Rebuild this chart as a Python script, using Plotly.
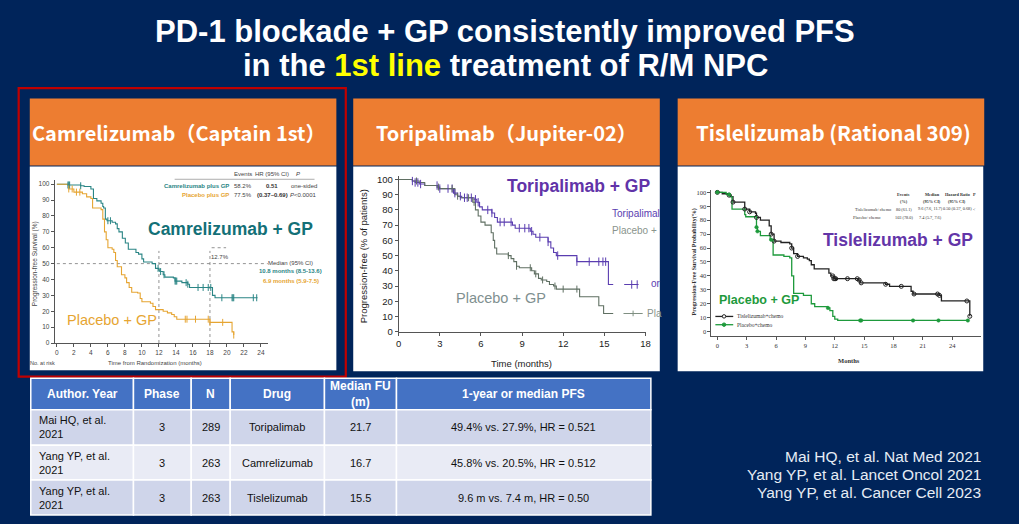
import plotly.graph_objects as go
import numpy as np

W, H = 1019, 524
ARIAL = "Liberation Sans, Arial, sans-serif"
SERIF = "Liberation Serif, Times New Roman, serif"
CJK = "Noto Sans CJK TC, Noto Sans, sans-serif"

NAVY = "#00245A"
ORANGE = "#ED7D31"

# ---------------- data ----------------
# Panel 1: Camrelizumab (CAPTAIN-1st)
cam_t = [0, 1.3, 2.8, 3.2, 4.0, 4.3, 4.7, 5.2, 5.4, 5.5, 5.7, 5.9, 6.5, 6.9, 7.1, 7.3, 7.7, 8.05, 8.4, 9.3,
         9.6, 10.0, 10.2, 11.2, 11.6, 12.0, 12.1, 12.5, 12.7, 13.7, 13.9, 14.7, 15.4, 15.6, 18.2, 18.3, 18.6, 23.6]
cam_s = [100, 99.5, 99, 98.5, 97, 91, 89.5, 88, 86, 85, 78, 77, 76, 75, 72, 70, 66, 63, 59, 57,
         56, 53, 51, 50, 47, 46, 45, 43, 41.5, 41, 39, 38, 37, 35, 35, 30, 28.5, 28.5]
cam_cens = [1.3, 1.4, 1.5, 2.8, 6.0, 6.3, 11.9, 12.2, 12.6, 13.9, 14.0, 14.1, 15.2, 15.4, 16.6, 17.2,
            17.8, 18.1, 19.4, 20.6, 20.7, 20.8, 23.1, 23.5]
pla1_t = [0, 1.4, 2.0, 3.0, 3.5, 4.0, 4.2, 5.2, 5.4, 5.6, 5.8, 6.0, 6.5, 6.7, 6.9, 7.1, 7.6, 8.0, 8.2, 8.5,
          8.8, 9.5, 9.8, 10.0, 11.0, 11.3, 11.6, 12.5, 13.0, 13.5, 13.8, 14.1, 18.0, 20.5, 20.6, 20.8]
pla1_s = [100, 97, 95, 94, 92, 91, 85, 84, 78, 70, 65, 60, 59, 57, 52, 48, 43, 41, 38, 35,
          32, 31.5, 28, 26, 25, 23, 21, 20, 19, 18, 16.5, 15, 13, 13, 7, 5]
pla1_cens = [1.4, 1.8, 2.3, 2.7, 15.1, 15.3, 16.3, 17.8, 18.0, 19.5, 20.8]

# Panel 2: Toripalimab (JUPITER-02)
tor_t = [0, 1.0, 1.2, 1.5, 1.9, 2.9, 4.0, 4.3, 4.6, 5.5, 5.7, 5.9, 6.1, 6.8, 7.0, 7.2, 8.3, 8.5, 9.6, 9.8,
         10.0, 10.9, 11.1, 11.3, 11.5, 13.0, 15.3, 15.65]
tor_s = [100, 99, 98, 97, 96, 94, 91, 89, 88, 87, 85, 82, 80, 78, 75, 72, 70, 68, 66, 64,
         62, 59, 55, 52, 50, 46, 31, 31]
tor_cens = [1.0, 1.2, 1.4, 1.6, 2.8, 3.0, 3.6, 3.9, 4.1, 4.5, 4.8, 5.0, 5.3, 5.6, 5.8, 6.5, 6.8, 7.4, 7.7,
            8.2, 8.8, 9.2, 9.5, 9.7, 10.3, 10.9, 11.6, 13.0, 13.9, 14.6, 14.9, 15.1]
pla2_t = [0, 1.0, 1.5, 1.9, 2.8, 3.0, 4.1, 4.3, 4.5, 5.4, 5.6, 5.8, 6.0, 6.3, 6.75, 6.9, 7.0, 7.15, 8.0, 8.2,
          8.4, 8.6, 8.8, 9.7, 9.9, 10.2, 10.4, 10.8, 11.0, 11.3, 11.5, 13.2, 14.6, 14.95, 15.65]
pla2_s = [100, 99, 98, 96, 95, 94, 90, 89, 88, 85, 80, 76, 72, 70, 65, 60, 55, 51, 50, 48,
          46, 43, 42, 40, 38, 35, 34, 33, 31, 30, 28, 23, 17, 12, 12]
pla2_cens = [1.3, 2.9, 3.9, 4.3, 5.1, 5.5, 8.0, 8.6, 9.6, 10.0, 10.5, 11.4, 12.0, 13.0]
tor_key_t = [16.45, 17.5]
tor_key_s = [31, 31]
tor_key_cens = [17.0, 17.4]
pla2_key_t = [16.4, 17.8]
pla2_key_s = [12, 12]
pla2_key_cens = [17.1]

# Panel 3: Tislelizumab (RATIONALE-309)
tis_t = [0, 0.5, 1.2, 1.4, 1.6, 2.8, 3.3, 3.9, 4.0, 4.4, 5.3, 5.5, 5.8, 6.5, 7.4, 7.6, 7.8, 8.2, 8.8, 9.2,
         9.4, 9.6, 9.9, 11.4, 11.6, 11.9, 14.4, 14.6, 17.2, 17.6, 19.8, 20.0, 22.7, 22.9, 25.8]
tis_s = [100, 99, 98, 97, 93, 88, 86, 85, 82, 80, 76, 70, 65, 64, 63, 60, 56, 54, 53, 52,
         51, 48, 45, 42, 40, 38, 37, 35, 34, 32.5, 29, 27, 26, 22, 11]
tis_cens = [0, 1.2, 1.6, 2.8, 3.3, 4.0, 5.5, 5.8, 7.6, 8.2, 11.8, 11.9, 12.0, 12.1, 13.3, 14.3, 14.5,
            14.7, 17.2, 18.8, 20.1, 22.5, 22.7, 25.5, 25.8]
pla3_t = [0, 0.9, 1.3, 1.5, 2.8, 2.9, 4.0, 4.1, 4.4, 5.4, 5.7, 6.8, 7.4, 7.6, 7.8, 8.8, 9.6, 9.95, 11.3,
          11.5, 11.8, 12.0, 12.3, 25.6]
pla3_s = [100, 98.5, 97, 88, 84, 82.5, 75, 72, 69, 66, 55, 54, 53, 40, 27.5, 26, 20, 18, 17,
          15, 11, 9, 8, 8]
pla3_cens = [0, 1.2, 4.0, 4.1, 5.5, 11.3, 14.6, 14.7, 20.0, 22.6, 25.6]

# ticks
p1_xticks = list(range(0, 25, 2))
p2_xticks = list(range(0, 19, 3))
p3_xticks = list(range(0, 25, 3))
yticks = list(range(0, 101, 10))

# table
tbl_header = ["Author. Year", "Phase", "N", "Drug", "Median FU<br>(m)", "1-year or median PFS"]
tbl_author = ["Mai HQ, et al.<br>2021", "Yang YP, et al.<br>2021", "Yang YP, et al.<br>2021"]
tbl_phase = ["3", "3", "3"]
tbl_n = ["289", "263", "263"]
tbl_drug = ["Toripalimab", "Camrelizumab", "Tislelizumab"]
tbl_fu = ["21.7", "16.7", "15.5"]
tbl_pfs = ["49.4% vs. 27.9%, HR = 0.521", "45.8% vs. 20.5%, HR = 0.512", "9.6 m vs. 7.4 m, HR = 0.50"]

refs = ["Mai HQ, et al. Nat Med 2021", "Yang YP, et al. Lancet Oncol 2021", "Yang YP, et al. Cancer Cell 2023"]

# ---------------- helpers ----------------
def X(p):
    return p / W


def Y(p):
    return 1 - p / H


def xdom(a, b, r):
    return [X(a + b * r[0]), X(a + b * r[1])]


def ydom(c, d, r):
    return [Y(c - d * r[0]), Y(c - d * r[1])]


fig = go.Figure()
ann = []
shapes = []


def txt(x, y, text, size, color, family=ARIAL, xanchor="center", yanchor="middle", angle=0, align="center"):
    ann.append(dict(x=X(x), y=Y(y), xref="paper", yref="paper", text=text, showarrow=False,
                    font=dict(size=size, color=color, family=family), xanchor=xanchor, yanchor=yanchor,
                    textangle=angle, align=align, borderpad=0))


def rect(x0, y0, x1, y1, fill, line=None, lw=0, layer="below"):
    shapes.append(dict(type="rect", xref="paper", yref="paper", x0=X(x0), x1=X(x1), y0=Y(y1), y1=Y(y0),
                       fillcolor=fill, line=dict(color=line or fill, width=lw), layer=layer))


def pline(x0, y0, x1, y1, color, w=1, dash="solid"):
    shapes.append(dict(type="line", xref="paper", yref="paper", x0=X(x0), x1=X(x1), y0=Y(y0), y1=Y(y1),
                       line=dict(color=color, width=w, dash=dash), layer="above"))


def km(t, s, xa, ya, color, width=1.2):
    fig.add_trace(go.Scatter(x=t, y=s, mode="lines", line=dict(shape="hv", color=color, width=width),
                             xaxis=xa, yaxis=ya, hoverinfo="skip"))


def cens(t, s, tc, xa, ya, color, symbol="line-ns", size=5, lw=1):
    ta = np.array(t)
    yc = [s[int(np.searchsorted(ta, c, side="right")) - 1] for c in tc]
    fig.add_trace(go.Scatter(x=tc, y=yc, mode="markers", xaxis=xa, yaxis=ya, hoverinfo="skip",
                             marker=dict(symbol=symbol, size=size, color=color,
                                         line=dict(width=lw, color=color))))


# ---------------- backgrounds ----------------
rect(27, 97, 336, 165, ORANGE)
rect(27, 166, 336, 373, "white")
rect(353, 97, 662, 165, ORANGE)
rect(353, 166, 662, 374, "white")
rect(680, 97, 989, 165, ORANGE)
rect(680, 166, 988, 374, "white")
shapes.append(dict(type="rect", xref="paper", yref="paper", x0=X(15.8), x1=X(345.5), y0=Y(379.5), y1=Y(86.5),
                   line=dict(color="#C00000", width=2.2), fillcolor="rgba(0,0,0,0)", layer="below"))

# titles
txt(506, 29, "<b>PD-1 blockade + GP consistently improved PFS</b>", 31, "white")
txt(506, 63, "<b>in the <span style='color:#FFFF00'>1st line</span> treatment of R/M NPC</b>", 31, "white")
txt(28, 131, "<b>Camrelizumab（Captain 1st）</b>", 20, "white", family=CJK, xanchor="left")
txt(375, 131, "<b>Toripalimab（Jupiter-02）</b>", 20, "white", family=CJK, xanchor="left")
txt(697, 131, "<b>Tislelizumab (Rational 309)</b>", 20.5, "white", family=CJK, xanchor="left")

# ---------------- panel 1 ----------------
TEAL = "#2A8585"
GOLD = "#E6A532"
p1x = (54.3, 8.571)
p1y = (345.3, 1.613)
r1x = [-0.25, 24.8]
r1y = [0, 102.5]
km(cam_t, cam_s, "x", "y", TEAL, 1.1)
km(pla1_t, pla1_s, "x", "y", GOLD, 1.1)
cens(cam_t, cam_s, cam_cens, "x", "y", TEAL, size=5)
cens(pla1_t, pla1_s, pla1_cens, "x", "y", GOLD, size=5)
for (x0, x1, y0, y1) in [(0, 24.9, 50, 50), (12, 12, 0, 58), (18, 18, 0, 58), (18.2, 19.9, 60, 60)]:
    shapes.append(dict(type="line", xref="x", yref="y", x0=x0, x1=x1, y0=y0, y1=y1,
                       line=dict(color="#777", width=0.8, dash="dot"), layer="below"))
txt(219, 258, "12.7%", 6, "#444")
txt(242, 174, "Events", 6, "#444")
txt(271, 174, "HR (95% CI)", 6, "#444")
txt(297, 174, "<i>P</i>", 6, "#444")
pline(173, 179, 314, 179, "#999", 0.8)
txt(228.5, 186, "<b>Camrelizumab plus GP</b>", 6, TEAL, xanchor="right")
txt(242, 186, "58.2%", 6, "#444")
txt(271, 186, "<b>0.51</b>", 6, "#333")
txt(303, 186, "one-sided", 6, "#444")
txt(228.5, 195, "<b>Placebo plus GP</b>", 6, GOLD, xanchor="right")
txt(242, 195, "77.5%", 6, "#444")
txt(271.5, 195, "<b>(0.37–0.69)</b>", 6, "#333")
txt(303, 195, "<i>P</i><0.0001", 6, "#444")
txt(229.5, 229, "<b>Camrelizumab + GP</b>", 17.5, "#137077")
txt(110, 322, "Placebo + GP", 14.5, GOLD)
txt(290, 264, "Median (95% CI)", 6, "#444")
txt(290, 272.5, "<b>10.8 months (8.5-13.6)</b>", 6, TEAL)
txt(290, 282, "<b>6.9 months (5.9-7.5)</b>", 6, GOLD)
txt(32.5, 265, "Progression-free Survival (%)", 6.5, "#444", angle=-90)
txt(153, 365.5, "Time from Randomization (months)", 6, "#444")
txt(26, 365.5, "No. at risk", 5.5, "#444", xanchor="left")

# ---------------- panel 2 ----------------
PURP = "#5A3DB0"
GRAY = "#5F6F62"
p2x = (398.8, 13.817)
p2y = (333.8, 1.546)
r2x = [0, 18.05]
r2y = [0, 102]
km(tor_t, tor_s, "x2", "y2", PURP, 1.1)
km(pla2_t, pla2_s, "x2", "y2", GRAY, 1.1)
km(tor_key_t, tor_key_s, "x2", "y2", PURP, 1.1)
km(pla2_key_t, pla2_key_s, "x2", "y2", "#7F8F82", 1.1)
cens(tor_t, tor_s, tor_cens, "x2", "y2", PURP, size=6)
cens(pla2_t, pla2_s, pla2_cens, "x2", "y2", GRAY, size=5)
cens(tor_key_t, tor_key_s, tor_key_cens, "x2", "y2", PURP, size=6)
cens(pla2_key_t, pla2_key_s, pla2_key_cens, "x2", "y2", "#7F8F82", size=4)
txt(580, 186, "<b>Toripalimab + GP</b>", 17.5, "#6133A8")
txt(613, 214, "Toripalimal", 10, "#5A3DB0", xanchor="left")
txt(613, 231, "Placebo + ", 10, "#8A948C", xanchor="left")
txt(652.5, 285, "or", 10, "#5A3DB0", xanchor="left")
txt(648.5, 315, "Pla", 10, "#8A948C", xanchor="left")
txt(502, 300, "Placebo + GP", 14.5, "#7F9090")
txt(363, 257, "Progression-free (% of patients)", 9.5, "#222", angle=-90)
txt(523, 366, "Time (months)", 9.5, "#222")

# ---------------- panel 3 ----------------
GREEN = "#1E9A3C"
p3x = (720, 9.8625)
p3y = (333.7, 1.414)
r3x = [-0.6, 26.9]
r3y = [-3.2, 102]
km(tis_t, tis_s, "x3", "y3", "#222", 1.3)
km(pla3_t, pla3_s, "x3", "y3", GREEN, 1.3)
cens(tis_t, tis_s, tis_cens, "x3", "y3", "#222", symbol="circle-open", size=4, lw=1)
cens(pla3_t, pla3_s, pla3_cens, "x3", "y3", GREEN, symbol="circle", size=3.5, lw=0.5)
txt(902, 241, "<b>Tislelizumab + GP</b>", 17.5, "#6335A8")
txt(762, 302, "<b>Placebo + GP</b>", 12.5, GREEN)
pline(718, 318.3, 736, 318.3, "#222", 1.3)
pline(718, 326.7, 736, 326.7, GREEN, 1.3)
shapes.append(dict(type="circle", xref="paper", yref="paper", x0=X(725), x1=X(728.5), y0=Y(320), y1=Y(316.5),
                   line=dict(color="#222", width=1), fillcolor="white", layer="above"))
shapes.append(dict(type="circle", xref="paper", yref="paper", x0=X(725), x1=X(728.5), y0=Y(328.4), y1=Y(324.9),
                   line=dict(color=GREEN, width=1), fillcolor=GREEN, layer="above"))
txt(738.5, 318.3, "Tislelizumab+chemo", 5.5, "#333", family=SERIF, xanchor="left")
txt(738.5, 326.7, "Placebo+chemo", 5.5, "#333", family=SERIF, xanchor="left")
SM = 4.3
txt(908, 194.5, "<b>Events</b>", SM, "#333", family=SERIF)
txt(908, 201.5, "<b>(%)</b>", SM, "#333", family=SERIF)
txt(936.5, 194.5, "<b>Median</b>", SM, "#333", family=SERIF)
txt(936.5, 201.5, "<b>(95% CI)</b>", SM, "#333", family=SERIF)
txt(962, 194.5, "<b>Hazard Ratio</b>", SM, "#333", family=SERIF)
txt(962, 201.5, "<b>(95% CI)</b>", SM, "#333", family=SERIF)
txt(979, 194.5, "<b>P</b>", SM, "#333", family=SERIF)
txt(896, 209.5, "Tislelizumab+chemo", SM, "#333", family=SERIF, xanchor="right")
txt(856, 218, "Placebo+chemo", SM, "#333", family=SERIF, xanchor="left")
txt(908, 209.5, "80 (61.1)", SM, "#333", family=SERIF)
txt(908, 218, "103 (78.0)", SM, "#333", family=SERIF)
txt(935, 209.5, "9.6 (7.6, 11.7)", SM, "#333", family=SERIF)
txt(935, 218, "7.4 (5.7, 7.6)", SM, "#333", family=SERIF)
txt(962, 209.5, "0.50 (0.37, 0.68)", SM, "#333", family=SERIF)
txt(979, 209.5, "<", SM, "#333", family=SERIF)
txt(697, 263, "<b>Progression-Free Survival Probability(%)</b>", 6, "#333", family=SERIF, angle=-90)
txt(853, 363, "<b>Months</b>", 6.5, "#333", family=SERIF)

# ---------------- table ----------------
col_edges = [28, 131.5, 189.7, 229, 324, 396.6, 653]
row_edges = [381, 413, 449, 484.5, 520]
row_fill = ["#4472C4", "#CFD5EA", "#E9EBF5", "#CFD5EA"]
body = [tbl_author, tbl_phase, tbl_n, tbl_drug, tbl_fu, tbl_pfs]
for r in range(4):
    for c in range(6):
        x0, x1 = col_edges[c], col_edges[c + 1]
        y0, y1 = row_edges[r], row_edges[r + 1]
        rect(x0, y0, x1, y1, row_fill[r], line="white", lw=1.5, layer="above")
        cx, cy = (x0 + x1) / 2, (y0 + y1) / 2
        if r == 0:
            txt(cx, cy, "<b>" + tbl_header[c] + "</b>", 12, "white")
        else:
            t = body[c][r - 1]
            if c == 0:
                txt(x0 + 7, cy, t, 11, "#111", xanchor="left", align="left")
            else:
                txt(cx, cy, t, 11, "#111")

# references
for i, ref in enumerate(refs):
    txt(987, [461, 479, 497][i], ref, 15.5, "#E6ECF5", xanchor="right", align="right")

# ---------------- layout ----------------
def xax(dom, rng, ticks, size, color, family=ARIAL, anchor="y"):
    return dict(domain=dom, range=rng, tickvals=ticks, showgrid=False, zeroline=False, showline=True,
                linecolor="#555", linewidth=1, ticks="outside", ticklen=3, tickcolor="#555", tickwidth=1,
                tickfont=dict(size=size, color=color, family=family), anchor=anchor, fixedrange=True)


fig.update_layout(
    width=W, height=H, margin=dict(l=0, r=0, t=0, b=0),
    paper_bgcolor=NAVY, plot_bgcolor="rgba(0,0,0,0)", showlegend=False,
    xaxis=xax(xdom(*p1x, r1x), r1x, p1_xticks, 6.5, "#444", anchor="y"),
    yaxis=xax(ydom(*p1y, r1y), r1y, yticks, 6.5, "#444", anchor="x"),
    xaxis2=xax(xdom(*p2x, r2x), r2x, p2_xticks, 9.5, "#222", anchor="y2"),
    yaxis2=xax(ydom(*p2y, r2y), r2y, yticks, 9.5, "#222", anchor="x2"),
    xaxis3=xax(xdom(*p3x, r3x), r3x, p3_xticks, 6.5, "#333", family=SERIF, anchor="y3"),
    yaxis3=xax(ydom(*p3y, r3y), r3y, yticks, 6.5, "#333", family=SERIF, anchor="x3"),
    annotations=ann, shapes=shapes,
)

fig.write_html("out.html")
